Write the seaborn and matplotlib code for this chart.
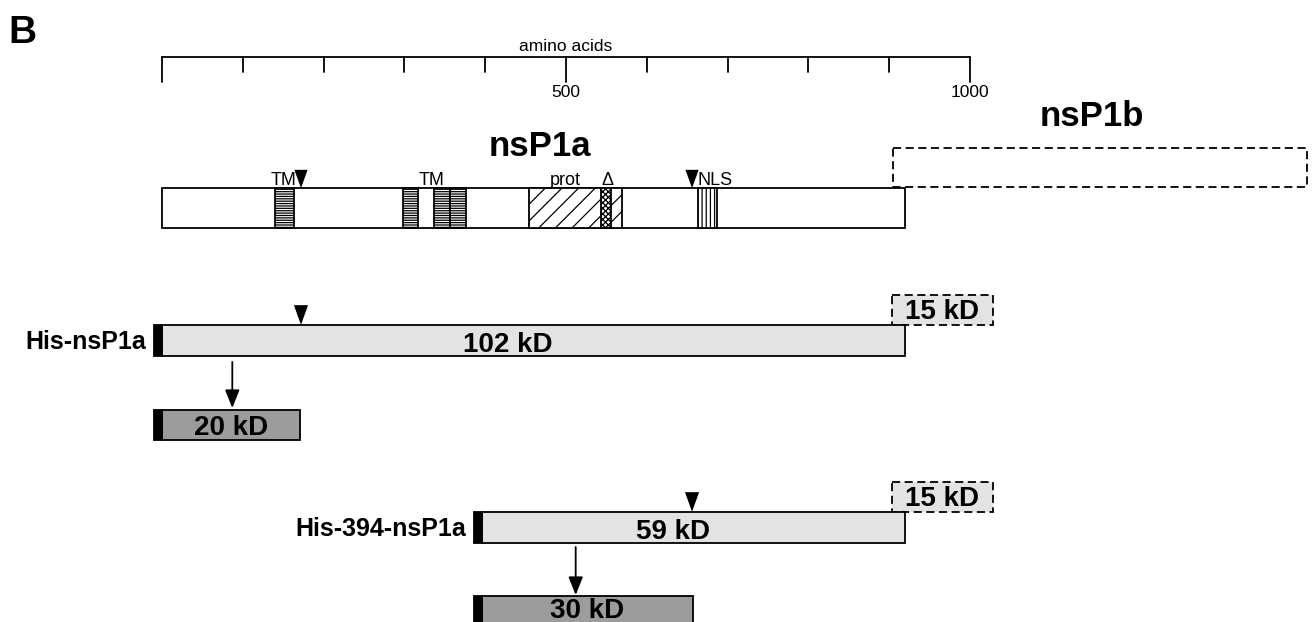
import numpy as np
import pandas as pd
import matplotlib
matplotlib.use("Agg")
import matplotlib.pyplot as plt
from matplotlib.patches import Rectangle
from matplotlib.path import Path
import seaborn as sns


# -----------------------------
# Data (amino acid positions)
# -----------------------------

ruler_ticks = list(range(0, 1001, 100))
ruler_major = [0, 500, 1000]
ruler_labels = ["500", "1000"]
ruler_label_pos = [500, 1000]

nsp1a_len = 920
nsp1b_start = 905
nsp1b_end = 1417

domain_start = [140, 298, 337, 357, 454, 543, 663]
domain_end = [163, 317, 357, 376, 569, 556, 687]
domain_hatch = ["-------", "-------", "-------", "-------", "//", "xxxxxx", "||||"]

domain_labels = ["TM", "TM", "prot", "\u0394", "NLS"]
domain_label_pos = [151, 334, 499, 551, 684]

cleavage_sites = [172, 656]

construct_names = ["His-nsP1a", "His-394-nsP1a"]
construct_start = [0, 396]
construct_end = [920, 920]
construct_kd = ["102 kD", "59 kD"]
construct_kd_pos = [428, 633]
construct_site = [172, 656]

tail_start = 903
tail_end = 1028
tail_kd = ["15 kD", "15 kD"]

product_kd = ["20 kD", "30 kD"]
product_end = [171, 657]
arrow_pos = [87, 512]


# -----------------------------
# Layout (pixel rows)
# -----------------------------

PX_PER_AA = 0.808
X0 = 162
LW = 1.3
TAG = 10
LIGHT = "#e3e3e3"
DARK = "#9c9c9c"
DASH = (0, (4.5, 2.5))

sns.set_theme(style="white")
plt.rcParams["font.family"] = ["Liberation Sans", "DejaVu Sans"]
plt.rcParams["text.color"] = "black"
plt.rcParams["hatch.linewidth"] = 0.9

fig = plt.figure(figsize=(13.14, 6.22), dpi=100)
ax = fig.add_axes([0, 0, 1, 1])


def box(x0, x1, top, h, fc="white", ls="-", hatch=None, z=2):
    ax.add_patch(Rectangle((x0, top), x1 - x0, h, facecolor=fc,
                           edgecolor="black", lw=LW, linestyle=ls,
                           hatch=hatch, zorder=z))


# panel letter
ax.text(-X0 / PX_PER_AA + 8 / PX_PER_AA, 43, "B", fontsize=28,
        fontweight="bold", ha="left", va="baseline")

# -----------------------------
# Ruler
# -----------------------------
ax.plot([0, 1000], [57, 57], color="black", lw=LW)
for t in ruler_ticks:
    bottom = 82 if t in ruler_major else 72
    ax.plot([t, t], [57, bottom], color="black", lw=LW)
for lab, pos in zip(ruler_labels, ruler_label_pos):
    ax.text(pos, 97, lab, fontsize=12.5, ha="center", va="baseline")
ax.text(500, 51, "amino acids", fontsize=12.5, ha="center", va="baseline")

# -----------------------------
# Domain map
# -----------------------------
ax.text(468, 156, "nsP1a", fontsize=25, fontweight="bold",
        ha="center", va="baseline")
ax.text((1092 - X0) / PX_PER_AA, 126, "nsP1b", fontsize=25,
        fontweight="bold", ha="center", va="baseline")

box(nsp1b_start, nsp1b_end, 148, 39, ls=DASH, z=1)
box(0, nsp1a_len, 188, 40)
for s, e, h in zip(domain_start, domain_end, domain_hatch):
    box(s, e, 188, 40, hatch=h, z=3)
for lab, pos in zip(domain_labels, domain_label_pos):
    ax.text(pos, 185, lab, fontsize=13, ha="center", va="baseline")

# -----------------------------
# Expression constructs
# -----------------------------
row_top = [325, 512]
prod_top = [410, 596]
prod_text_dy = [25, 22]
arrow_y = [(362, 408), (547, 595)]

for i in range(2):
    top = row_top[i]
    st = construct_start[i]
    box(tail_start, tail_end, top - 30, 30, fc=LIGHT, ls=DASH, z=1)
    ax.text((tail_start + tail_end) / 2, top - 6, tail_kd[i], fontsize=20,
            fontweight="bold", ha="center", va="baseline", zorder=5)
    box(st, construct_end[i], top, 31, fc=LIGHT)
    box(st - TAG, st, top, 31, fc="black")
    ax.text(st - TAG - 8 / PX_PER_AA, top + 24, construct_names[i],
            fontsize=18, fontweight="bold", ha="right", va="baseline")
    ax.text(construct_kd_pos[i], top + 27, construct_kd[i], fontsize=20,
            fontweight="bold", ha="center", va="baseline", zorder=5)

    ax.annotate("", xy=(arrow_pos[i], arrow_y[i][1]),
                xytext=(arrow_pos[i], arrow_y[i][0]),
                arrowprops=dict(arrowstyle="-|>,head_length=0.55,head_width=0.22",
                                color="black", lw=LW, mutation_scale=20,
                                shrinkA=0, shrinkB=0))

    ptop = prod_top[i]
    box(st, product_end[i], ptop, 30, fc=DARK)
    box(st - TAG, st, ptop, 30, fc="black")
    ax.text((st + product_end[i]) / 2, ptop + prod_text_dy[i], product_kd[i],
            fontsize=20, fontweight="bold", ha="center", va="baseline",
            zorder=5)

# -----------------------------
# Cleavage sites (triangles)
# -----------------------------
tri = Path([(-0.72, 1.0), (0.72, 1.0), (0.0, -1.0), (-0.72, 1.0)],
           [Path.MOVETO, Path.LINETO, Path.LINETO, Path.CLOSEPOLY])

top_sites = pd.DataFrame({"aa": cleavage_sites,
                          "y": [179] * len(cleavage_sites)})
row_sites = pd.DataFrame({"aa": construct_site,
                          "y": [row_top[0] - 10, row_top[1] - 10]})

sns.scatterplot(data=top_sites, x="aa", y="y", marker=tri, s=175,
                color="black", edgecolor="none", ax=ax, zorder=6)
sns.scatterplot(data=row_sites, x="aa", y="y", marker=tri, s=200,
                color="black", edgecolor="none", ax=ax, zorder=6)

ax.set_xlim(-X0 / PX_PER_AA, (1314 - X0) / PX_PER_AA)
ax.set_ylim(622, 0)
ax.axis("off")

fig.savefig("out.png", dpi=100)
